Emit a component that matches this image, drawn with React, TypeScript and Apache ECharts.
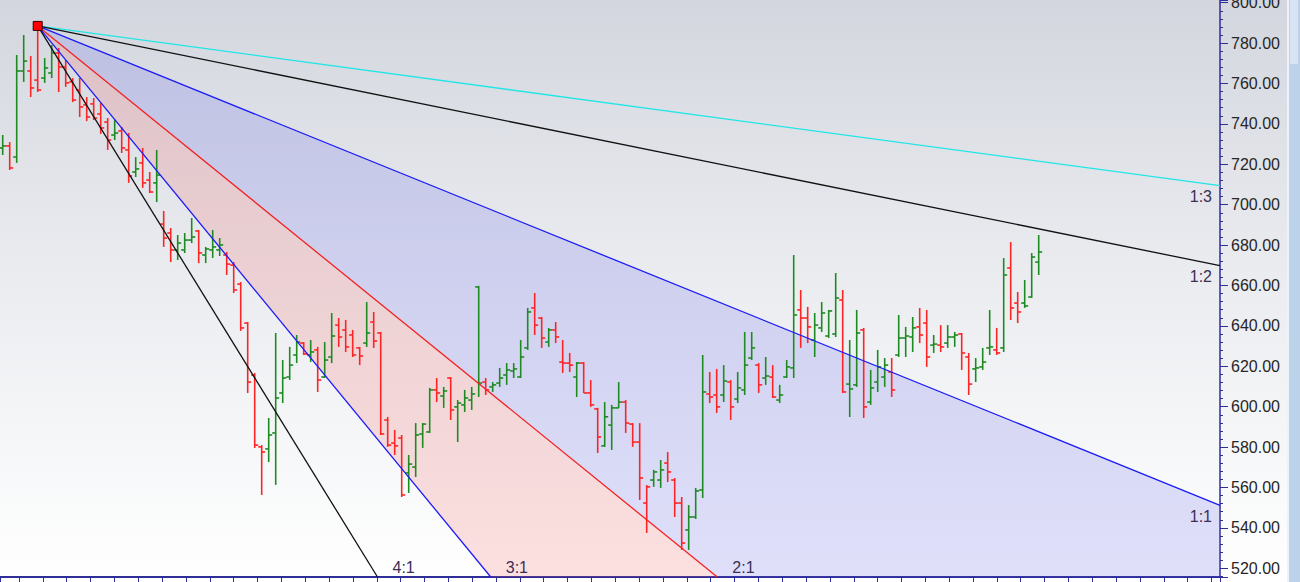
import React, { useEffect, useRef } from "react";
import * as echarts from "echarts";

// OHLC bars, one per bar index (0..148)
const OPEN = [
  728.1, 729.1, 723.6, 766.2, 766.2, 761.7, 762.7, 765.2, 775.1, 768.2,
  760.8, 756.8, 749.4, 749.9, 744.9, 740.9, 734.5, 736.5, 727.1, 716.2,
  720.7, 712.2, 710.8, 690.4, 686.0, 677.6, 677.6, 682.5, 687.0, 675.1,
  677.6, 677.6, 675.1, 670.1, 660.7, 641.4, 615.7, 580.1, 579.1, 587.0,
  606.8, 614.7, 625.6, 631.5, 625.6, 628.1, 614.7, 624.6, 640.4, 638.0,
  635.5, 629.1, 631.5, 641.9, 636.5, 593.4, 582.0, 584.5, 567.2, 570.1,
  586.5, 587.5, 608.3, 605.3, 614.2, 599.9, 600.9, 603.3, 659.3, 612.2,
  609.8, 611.7, 615.7, 617.7, 614.7, 629.1, 648.9, 643.9, 632.0, 638.0,
  622.1, 621.6, 614.7, 621.6, 606.8, 598.9, 580.6, 590.9, 599.4, 602.3,
  591.4, 582.5, 552.3, 563.7, 563.7, 572.1, 563.7, 552.3, 539.0, 545.4,
  558.8, 606.3, 605.8, 605.8, 612.2, 603.8, 608.3, 624.1, 620.6, 614.2,
  614.7, 603.3, 614.7, 619.2, 647.9, 643.9, 633.0, 639.0, 635.0, 636.0,
  652.8, 611.2, 610.8, 638.0, 602.3, 612.2, 614.7, 617.2, 625.6, 634.0,
  634.5, 639.5, 641.4, 630.5, 630.5, 631.5, 634.5, 636.0, 624.6, 618.7,
  619.7, 629.1, 628.1, 629.1, 668.7, 651.3, 651.3, 654.3, 671.6,
];
const HIGH = [
  734.5, 731.0, 774.1, 784.0, 773.6, 788.5, 772.6, 779.1, 777.6, 771.6,
  762.7, 762.7, 753.3, 752.8, 750.3, 742.9, 741.9, 738.5, 735.5, 723.6,
  728.1, 716.2, 727.1, 696.9, 688.5, 685.0, 686.0, 693.4, 687.5, 679.1,
  687.5, 683.5, 676.6, 671.6, 661.7, 641.9, 616.7, 581.0, 594.4, 636.5,
  623.1, 629.6, 635.5, 632.0, 633.0, 629.6, 632.0, 646.4, 643.9, 642.9,
  638.0, 629.6, 651.8, 646.9, 637.0, 594.9, 588.5, 586.0, 576.1, 591.9,
  591.9, 609.3, 614.2, 609.8, 614.7, 603.3, 608.3, 609.8, 659.8, 614.2,
  612.2, 619.2, 621.6, 621.6, 633.0, 648.9, 656.3, 644.4, 639.0, 641.9,
  633.0, 626.6, 622.1, 622.1, 613.2, 599.4, 602.3, 600.9, 612.2, 603.3,
  591.9, 591.9, 561.2, 568.7, 573.6, 577.6, 564.7, 555.3, 551.3, 559.8,
  625.6, 617.2, 618.7, 620.6, 613.2, 617.2, 637.0, 637.0, 621.6, 624.6,
  620.6, 610.8, 623.1, 675.1, 657.8, 649.4, 646.4, 651.8, 647.9, 666.2,
  657.8, 633.0, 647.9, 639.0, 618.2, 628.1, 624.1, 624.1, 645.4, 639.5,
  644.4, 648.9, 647.9, 635.5, 640.4, 640.4, 637.0, 636.5, 626.6, 624.1,
  629.1, 647.9, 639.0, 673.6, 681.5, 656.8, 662.7, 676.1, 685.0,
];
const LOW = [
  724.6, 717.2, 720.7, 760.8, 753.3, 755.8, 760.3, 762.7, 755.8, 758.3,
  750.8, 743.4, 741.4, 741.9, 735.0, 727.1, 732.0, 725.6, 710.8, 713.7,
  708.3, 705.8, 701.3, 679.1, 671.6, 672.6, 676.1, 681.0, 671.1, 671.1,
  673.6, 674.6, 665.2, 656.3, 637.5, 606.8, 579.6, 556.3, 572.6, 561.3,
  601.8, 613.2, 621.6, 625.6, 622.1, 607.3, 614.2, 621.6, 629.6, 627.1,
  624.6, 620.6, 629.6, 629.1, 586.0, 580.1, 576.1, 555.3, 557.3, 565.2,
  579.6, 587.0, 602.3, 599.4, 593.4, 582.5, 597.4, 598.4, 604.8, 605.8,
  607.3, 609.8, 610.8, 614.2, 614.2, 628.1, 635.5, 629.1, 629.6, 631.5,
  616.7, 617.2, 604.8, 606.8, 599.9, 577.1, 580.1, 578.6, 599.4, 587.0,
  580.1, 553.8, 537.5, 560.3, 559.8, 562.7, 545.4, 529.1, 529.1, 544.4,
  554.8, 601.8, 596.9, 602.3, 593.4, 601.8, 605.8, 623.1, 606.8, 610.8,
  604.3, 601.8, 614.2, 614.2, 629.1, 631.5, 624.6, 637.0, 634.0, 634.5,
  606.8, 594.9, 609.8, 594.4, 600.9, 607.3, 609.8, 604.8, 624.6, 624.6,
  627.1, 631.5, 619.7, 626.6, 627.1, 629.1, 629.6, 618.2, 605.8, 612.2,
  618.2, 625.6, 625.6, 627.1, 642.9, 641.4, 648.9, 653.8, 665.2,
];
const CLOSE = [
  729.1, 718.2, 766.2, 771.1, 757.8, 756.8, 767.7, 775.1, 768.2, 760.3,
  751.8, 748.4, 743.4, 742.9, 738.0, 732.0, 735.5, 728.1, 714.2, 717.7,
  710.8, 706.3, 714.7, 683.5, 677.6, 681.0, 682.5, 684.0, 676.1, 678.1,
  679.1, 680.1, 670.6, 657.8, 639.0, 612.2, 581.0, 577.6, 586.0, 604.3,
  614.2, 620.6, 632.0, 626.1, 627.1, 613.2, 623.1, 635.0, 634.5, 629.6,
  625.6, 625.1, 636.5, 632.5, 586.5, 581.0, 580.6, 556.3, 571.6, 586.0,
  591.4, 608.3, 606.8, 607.8, 598.4, 601.8, 604.3, 606.3, 611.7, 608.3,
  610.8, 614.2, 618.2, 618.7, 624.6, 646.9, 640.4, 634.0, 638.0, 634.5,
  621.6, 620.6, 621.6, 606.8, 600.9, 585.0, 595.0, 599.4, 602.3, 591.9,
  582.5, 564.7, 560.3, 567.7, 568.7, 567.7, 552.3, 532.5, 545.4, 558.3,
  607.3, 604.8, 599.9, 612.7, 599.9, 609.3, 620.6, 629.1, 610.8, 615.2,
  604.8, 605.8, 619.7, 645.4, 643.9, 639.5, 640.4, 646.4, 647.4, 653.8,
  607.3, 608.8, 636.5, 599.9, 609.3, 619.7, 620.6, 608.3, 634.0, 635.0,
  639.0, 635.5, 624.6, 631.0, 629.6, 634.5, 635.5, 626.6, 611.2, 619.2,
  622.1, 629.6, 626.6, 665.2, 648.9, 646.9, 649.9, 674.1, 676.6,
];

// Gann fan: pivot and ratios
const PIVOT_BAR = 5;
const PIVOT_PRICE = 788.5;
const FAN_UNIT = 1.405; // price per bar for the 1:1 line
const FAN_LABELS = ["1:3", "1:2", "1:1", "2:1", "3:1", "4:1"];
const FAN_SLOPES = [1 / 3, 1 / 2, 1, 2, 3, 4];
const FAN_COLORS = ["#22e6e6", "#111111", "#1c1cf5", "#f02424", "#1c1cf5", "#111111"];

// Axis extents
const X_MIN = -0.386;
const X_MAX = 173.9;
const Y_MIN = 515.69;
const Y_MAX = 801.34;

const GREEN = "#1d8a22";
const RED = "#ff2424";
const AXIS = "#2e2e98";
const FONT = 'Arial, "Liberation Sans", sans-serif';

function fanExit(k: number): [number, number] {
  const slope = k * FAN_UNIT;
  const yRight = PIVOT_PRICE - slope * (X_MAX - PIVOT_BAR);
  if (yRight >= Y_MIN) return [X_MAX, yRight];
  return [PIVOT_BAR + (PIVOT_PRICE - Y_MIN) / slope, Y_MIN];
}

export default function App() {
  const ref = useRef<HTMLDivElement>(null);
  useEffect(() => {
    const chart = echarts.init(ref.current!, undefined, { renderer: "svg" });
    const ohlc = OPEN.map((o, i) => [
      i, o, HIGH[i], LOW[i], CLOSE[i],
      i === 0 || CLOSE[i] >= CLOSE[i - 1] ? 1 : 0,
    ]);
    chart.setOption({
      animation: false,
      grid: { left: 0, right: 80, top: 0, bottom: 5, containLabel: false, outerBoundsMode: "none" },
      xAxis: [
        {
          type: "value", min: X_MIN, max: X_MAX, position: "bottom",
          axisLine: { show: true, onZero: false, lineStyle: { color: AXIS, width: 2 } },
          axisTick: { show: false }, axisLabel: { show: false }, splitLine: { show: false },
        },
        {
          type: "value", min: 4.85, max: 1224.85, minInterval: 23.85, maxInterval: 23.85,
          position: "bottom",
          axisLine: { show: false, onZero: false },
          axisTick: { show: true, length: 6, lineStyle: { color: AXIS, width: 1 } },
          axisLabel: { show: false }, splitLine: { show: false },
        },
      ],
      yAxis: {
        type: "value", position: "right", min: Y_MIN, max: Y_MAX,
        minInterval: 20, maxInterval: 20,
        axisLine: { show: true, onZero: false, lineStyle: { color: AXIS, width: 1.5 } },
        axisTick: { show: true, length: 8, lineStyle: { color: AXIS, width: 1 } },
        minorTick: { show: true, splitNumber: 5, length: 3, lineStyle: { color: AXIS, width: 1 } },
        axisLabel: {
          margin: 11, fontSize: 16, color: "#262626", fontFamily: FONT,
          formatter: (v: number) => (Math.abs(v / 20 - Math.round(v / 20)) < 1e-6 ? v.toFixed(2) : ""),
        },
        splitLine: { show: false },
      },
      series: [
        {
          type: "custom", z: 1, silent: true,
          data: [[PIVOT_BAR, PIVOT_PRICE]],
          encode: { x: 0, y: 1 },
          renderItem: (params: any, api: any) => {
            const P = api.coord([PIVOT_BAR, PIVOT_PRICE]);
            const e1 = api.coord(fanExit(1));
            const e2 = api.coord(fanExit(2));
            const e3 = api.coord(fanExit(3));
            const corner = api.coord([X_MAX, Y_MIN]);
            return {
              type: "group",
              children: [
                { type: "polygon", shape: { points: [P, e1, corner, e2] }, style: { fill: "rgba(92,92,236,0.19)" } },
                { type: "polygon", shape: { points: [P, e2, e3] }, style: { fill: "rgba(246,92,92,0.19)" } },
              ],
            };
          },
        },
        {
          type: "custom", z: 2, silent: true,
          data: ohlc,
          encode: { x: 0, y: [1, 2, 3, 4] },
          renderItem: (params: any, api: any) => {
            const i = api.value(0);
            const pO = api.coord([i, api.value(1)]);
            const pH = api.coord([i, api.value(2)]);
            const pL = api.coord([i, api.value(3)]);
            const pC = api.coord([i, api.value(4)]);
            const color = api.value(5) ? GREEN : RED;
            const st = { stroke: color, lineWidth: 1.6 };
            return {
              type: "group",
              children: [
                { type: "line", shape: { x1: pH[0], y1: pH[1], x2: pL[0], y2: pL[1] }, style: st },
                { type: "line", shape: { x1: pO[0] - 3.5, y1: pO[1], x2: pO[0], y2: pO[1] }, style: st },
                { type: "line", shape: { x1: pC[0], y1: pC[1], x2: pC[0] + 3.5, y2: pC[1] }, style: st },
              ],
            };
          },
        },
        {
          type: "custom", z: 3, silent: true,
          data: FAN_SLOPES.map((k, idx) => [PIVOT_BAR, PIVOT_PRICE, idx]),
          encode: { x: 0, y: 1 },
          renderItem: (params: any, api: any) => {
            const idx = params.dataIndex;
            const k = FAN_SLOPES[idx];
            const P = api.coord([PIVOT_BAR, PIVOT_PRICE]);
            const ex = fanExit(k);
            const E = api.coord(ex);
            const atRight = ex[0] === X_MAX;
            return {
              type: "group",
              children: [
                { type: "line", shape: { x1: P[0], y1: P[1], x2: E[0], y2: E[1] }, style: { stroke: FAN_COLORS[idx], lineWidth: 1.3 } },
                {
                  type: "text",
                  x: atRight ? E[0] - 8 : E[0] + 15,
                  y: atRight ? E[1] + 11 : E[1] - 10,
                  style: {
                    text: FAN_LABELS[idx], fill: "#3a2f55", fontSize: 16, fontFamily: FONT,
                    align: atRight ? "right" : "left", verticalAlign: "middle",
                  },
                },
              ],
            };
          },
        },
        {
          type: "scatter", z: 4, silent: true,
          data: [[PIVOT_BAR, PIVOT_PRICE]],
          symbol: "rect", symbolSize: 9,
          itemStyle: { color: "#ff0000", borderColor: "#3a0000", borderWidth: 1, opacity: 1 },
        },
      ],
      graphic: [
        { type: "rect", shape: { x: 1287, y: 0, width: 13, height: 582 }, style: { fill: "#bcd2ea" }, z: 10 },
        { type: "line", shape: { x1: 1288, y1: 0, x2: 1288, y2: 582 }, style: { stroke: "#eef3fa", lineWidth: 2 }, z: 11 },
        { type: "rect", shape: { x: 1290, y: 0, width: 8, height: 64 }, style: { fill: "#d6e4f4" }, z: 11 },
      ],
    });
    return () => chart.dispose();
  }, []);
  return (
    <div
      ref={ref}
      style={{
        position: "absolute", left: 0, top: 0, width: 1300, height: 582,
        background: "linear-gradient(to bottom, #d3d6de 0%, #e9ebef 45%, #f7f8f9 80%, #ffffff 100%)",
      }}
    />
  );
}
